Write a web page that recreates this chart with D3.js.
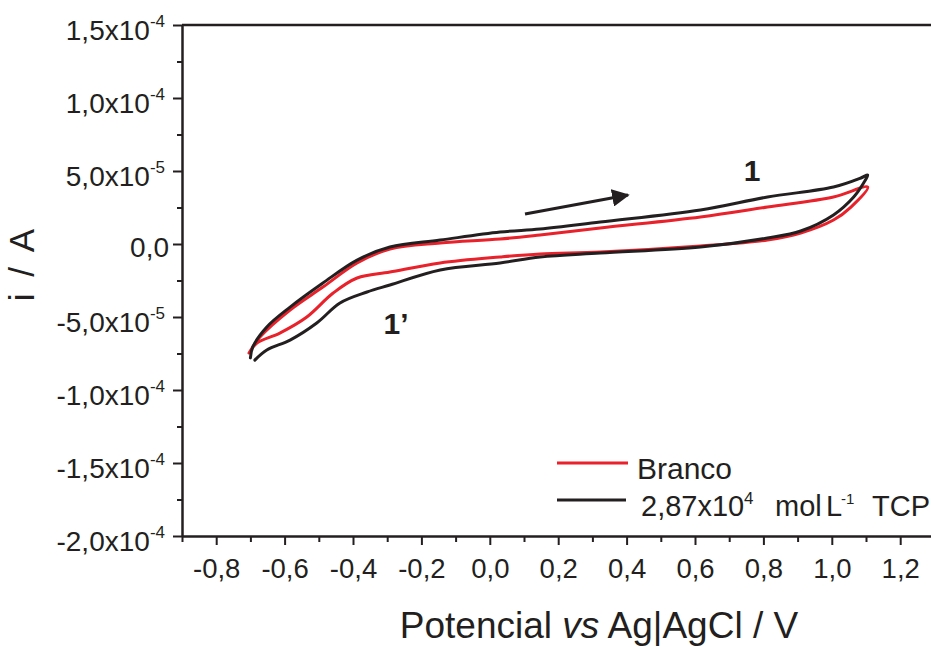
<!DOCTYPE html>
<html>
<head>
<meta charset="utf-8">
<script src="https://cdn.jsdelivr.net/npm/d3@7"></script>
<style>
  html, body { margin: 0; padding: 0; background: #fff; }
  svg { display: block; }
  text { font-family: "Liberation Sans", Arial, Helvetica, sans-serif; fill: #231f20; }
</style>
</head>
<body>
<svg id="chart" width="931" height="647"></svg>
<script>
// Cyclic voltammograms: blank electrolyte vs. 2,87x10^4 mol L^-1 TCP
// Potentials in V (vs Ag|AgCl), currents in A; each loop runs forward then back.

const blankE = [-0.704, -0.672, -0.584, -0.488, -0.388, -0.292, -0.145, 0.030, 0.147, 0.323, 0.616, 0.812, 1.005, 1.105,
                1.056, 1.005, 0.909, 0.812, 0.616, 0.323, 0.147, 0.030, -0.145, -0.292, -0.388, -0.458, -0.535, -0.614, -0.681, -0.704];
const blankI = [-7.47e-5, -6.37e-5, -4.52e-5, -2.95e-5, -1.30e-5, -0.34e-5, 0.07e-5, 0.34e-5, 0.62e-5, 1.10e-5, 1.85e-5, 2.53e-5, 3.22e-5, 3.90e-5,
                2.53e-5, 1.64e-5, 0.75e-5, 0.27e-5, -0.14e-5, -0.55e-5, -0.68e-5, -0.89e-5, -1.30e-5, -1.92e-5, -2.33e-5, -3.36e-5, -5.00e-5, -6.10e-5, -6.78e-5, -7.47e-5];

const tcpE = [-0.700, -0.693, -0.652, -0.584, -0.488, -0.388, -0.292, -0.145, 0.030, 0.147, 0.323, 0.616, 0.812, 1.005, 1.085, 1.105,
              1.093, 1.064, 1.005, 0.909, 0.812, 0.616, 0.323, 0.147, 0.030, -0.145, -0.292, -0.359, -0.438, -0.506, -0.584, -0.652, -0.687];
const tcpI = [-7.80e-5, -7.05e-5, -5.68e-5, -4.32e-5, -2.67e-5, -1.10e-5, -0.21e-5, 0.27e-5, 0.82e-5, 1.03e-5, 1.51e-5, 2.33e-5, 3.22e-5, 3.90e-5, 4.52e-5, 4.73e-5,
              4.18e-5, 3.22e-5, 1.99e-5, 0.89e-5, 0.41e-5, -0.21e-5, -0.62e-5, -0.89e-5, -1.30e-5, -1.78e-5, -2.81e-5, -3.29e-5, -4.04e-5, -5.41e-5, -6.58e-5, -7.26e-5, -7.95e-5];

// Axis ticks and their labels
const xTicks = [-0.8, -0.6, -0.4, -0.2, 0.0, 0.2, 0.4, 0.6, 0.8, 1.0, 1.2];
const xTickLabels = ["-0,8", "-0,6", "-0,4", "-0,2", "0,0", "0,2", "0,4", "0,6", "0,8", "1,0", "1,2"];
const xMinorTicks = [-0.9, -0.7, -0.5, -0.3, -0.1, 0.1, 0.3, 0.5, 0.7, 0.9, 1.1, 1.3];
const yTicks = [1.5e-4, 1.0e-4, 5.0e-5, 0, -5.0e-5, -1.0e-4, -1.5e-4, -2.0e-4];
const yTickMantissa = ["1,5x10", "1,0x10", "5,0x10", "0,0", "-5,0x10", "-1,0x10", "-1,5x10", "-2,0x10"];
const yTickExponent = ["-4", "-4", "-5", "", "-5", "-4", "-4", "-4"];
const yMinorTicks = [1.25e-4, 7.5e-5, 2.5e-5, -2.5e-5, -7.5e-5, -1.25e-4, -1.75e-4];

const seriesColors = ["#e8212b", "#231f20"];

const svg = d3.select("#chart");
const plotLeft = 182, plotTop = 25, plotBottom = 536;

const x = d3.scaleLinear().domain([-0.9, 1.3]).range([plotLeft, plotLeft + 2.2 * 342]);
const y = d3.scaleLinear().domain([-2.0e-4, 1.5e-4]).range([plotBottom, plotTop]);

const ink = "#231f20";

// Top frame line (right side runs off the canvas)
svg.append("line")
  .attr("x1", plotLeft).attr("x2", 931).attr("y1", plotTop).attr("y2", plotTop)
  .attr("stroke", ink).attr("stroke-width", 2.5);

// X axis: minor ticks, then major ticks with labels
const gxMinor = svg.append("g").attr("transform", `translate(0,${plotBottom})`)
  .call(d3.axisBottom(x).tickValues(xMinorTicks).tickSize(6).tickFormat(""));
gxMinor.select(".domain").remove();
gxMinor.selectAll("line").attr("stroke", ink).attr("stroke-width", 2);

const gx = svg.append("g").attr("transform", `translate(0,${plotBottom})`)
  .call(d3.axisBottom(x).tickValues(xTicks).tickSizeInner(9).tickSizeOuter(0)
    .tickFormat((d, i) => xTickLabels[i]));
gx.select(".domain").attr("stroke", ink).attr("stroke-width", 2.5);
gx.selectAll(".tick line").attr("stroke", ink).attr("stroke-width", 2);
gx.attr("font-family", null).attr("font-size", null);
gx.selectAll(".tick text")
  .attr("y", 42).attr("dy", 0)
  .style("font-size", "27.5px").style("fill", ink);

// Y axis: minor ticks, then major ticks with scientific labels
const gyMinor = svg.append("g").attr("transform", `translate(${plotLeft},0)`)
  .call(d3.axisLeft(y).tickValues(yMinorTicks).tickSize(5).tickFormat(""));
gyMinor.select(".domain").remove();
gyMinor.selectAll("line").attr("stroke", ink).attr("stroke-width", 2);

const gy = svg.append("g").attr("transform", `translate(${plotLeft},0)`)
  .call(d3.axisLeft(y).tickValues(yTicks).tickSizeInner(9).tickSizeOuter(0).tickFormat(""));
gy.attr("font-family", null).attr("font-size", null);
gy.select(".domain").attr("stroke", ink).attr("stroke-width", 2.5);
gy.selectAll(".tick line").attr("stroke", ink).attr("stroke-width", 2);
gy.selectAll(".tick text").remove();
gy.selectAll(".tick").each(function(d, i) {
  const hasExp = yTickExponent[i] !== "";
  const t = d3.select(this).append("text")
    .attr("x", hasExp ? -17 : -13)
    .attr("y", hasExp ? 14 : 12)
    .attr("text-anchor", "end")
    .style("font-size", "28px");
  t.append("tspan").text(yTickMantissa[i]);
  if (hasExp) {
    t.append("tspan").attr("dy", -13).style("font-size", "17px").text(yTickExponent[i]);
  }
});

// Axis titles
svg.append("text")
  .attr("transform", "translate(34,265) rotate(-90)")
  .attr("text-anchor", "middle")
  .style("font-size", "35px")
  .style("word-spacing", "7px")
  .text("i / A");

const xt = svg.append("text")
  .attr("x", 599).attr("y", 638)
  .attr("text-anchor", "middle")
  .style("font-size", "37px");
xt.append("tspan").text("Potencial ");
xt.append("tspan").style("font-style", "italic").text("vs");
xt.append("tspan").text(" Ag|AgCl / V");

// Voltammogram traces
const line = d3.line().x(d => x(d[0])).y(d => y(d[1])).curve(d3.curveCatmullRom.alpha(0.5));
const traces = [
  { e: blankE, i: blankI, color: seriesColors[0] },
  { e: tcpE, i: tcpI, color: seriesColors[1] }
];
svg.append("g").selectAll("path").data(traces).join("path")
  .attr("d", s => line(s.e.map((v, k) => [v, s.i[k]])))
  .attr("fill", "none")
  .attr("stroke", s => s.color)
  .attr("stroke-width", 3)
  .attr("stroke-linejoin", "round")
  .attr("stroke-linecap", "round");

// Scan direction arrow
svg.append("defs").append("marker")
  .attr("id", "head").attr("viewBox", "0 0 10 10")
  .attr("refX", 9).attr("refY", 5)
  .attr("markerWidth", 5.5).attr("markerHeight", 5.5)
  .attr("markerUnits", "strokeWidth")
  .attr("orient", "auto")
  .append("path").attr("d", "M0,0 L10,5 L0,10 Z").attr("fill", ink);
svg.append("line")
  .attr("x1", 525).attr("y1", 214).attr("x2", 628).attr("y2", 195)
  .attr("stroke", ink).attr("stroke-width", 3.2)
  .attr("marker-end", "url(#head)");

// Peak labels
svg.append("text").attr("x", 752).attr("y", 181).attr("text-anchor", "middle")
  .style("font-size", "30px").style("font-weight", "bold").text("1");
svg.append("text").attr("x", 396).attr("y", 334).attr("text-anchor", "middle")
  .style("font-size", "30px").style("font-weight", "bold").text("1\u2019");

// Legend
const legend = svg.append("g");
legend.append("line").attr("x1", 557).attr("x2", 628).attr("y1", 463).attr("y2", 463)
  .attr("stroke", seriesColors[0]).attr("stroke-width", 3);
legend.append("text").attr("x", 637).attr("y", 479).style("font-size", "30px").text("Branco");

legend.append("line").attr("x1", 557).attr("x2", 626).attr("y1", 500).attr("y2", 500)
  .attr("stroke", seriesColors[1]).attr("stroke-width", 3);
const lt = legend.append("text").attr("y", 516).style("font-size", "29px");
lt.append("tspan").attr("x", 641).text("2,87x10");
lt.append("tspan").attr("x", 744).attr("dy", -12).style("font-size", "17px").text("4");
lt.append("tspan").attr("x", 775).attr("dy", 12).text("mol");
lt.append("tspan").attr("x", 826).text("L");
lt.append("tspan").attr("x", 841).attr("dy", -12).style("font-size", "15px").text("-1");
lt.append("tspan").attr("x", 872).attr("dy", 12).text("TCP");
</script>
</body>
</html>
